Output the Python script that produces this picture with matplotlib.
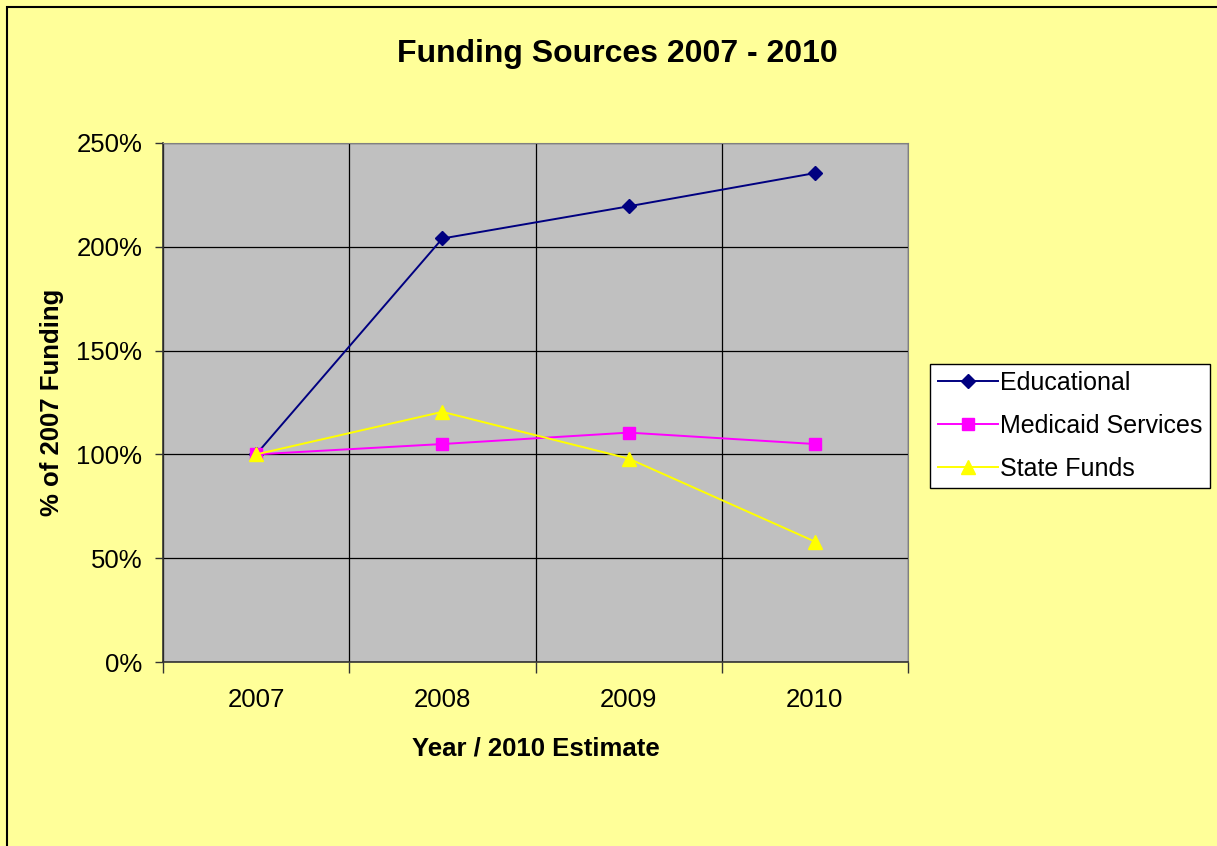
import matplotlib.pyplot as plt
from matplotlib.patches import Rectangle

plt.rcParams['font.family'] = ['Liberation Sans', 'DejaVu Sans']

years = ['2007', '2008', '2009', '2010']
educational = [100, 204, 219.5, 235.5]
medicaid = [100, 105, 110.5, 105]
state_funds = [100, 120.5, 98, 58]
yticks = [0, 50, 100, 150, 200, 250]

W, H = 1217, 846
fig = plt.figure(figsize=(W / 100, H / 100), dpi=100, facecolor='#FFFF99')
ax = fig.add_axes([163 / W, 184 / H, 745 / W, 519 / H])
ax.set_facecolor('#C0C0C0')

# outer chart border (cut off on right and bottom like the original)
fig.patches.append(Rectangle((7 / W, -0.1), 1.2, (H - 7) / H + 0.1,
                             transform=fig.transFigure, fill=False,
                             edgecolor='black', linewidth=1.5))

x = list(range(len(years)))
ax.plot(x, educational, color='#000080', marker='D', markersize=7, lw=1.4,
        label='Educational')
ax.plot(x, medicaid, color='#FF00FF', marker='s', markersize=8.5, lw=1.4,
        label='Medicaid Services')
ax.plot(x, state_funds, color='#FFFF00', marker='^', markersize=10, lw=1.4,
        label='State Funds')

ax.set_xlim(-0.5, len(years) - 0.5)
ax.set_ylim(0, 250)
ax.set_yticks(yticks)
ax.set_yticklabels([f'{v}%' for v in yticks])
ax.set_xticks([i - 0.5 for i in range(len(years) + 1)])
ax.set_xticklabels([])
ax.set_xticks(x, minor=True)
ax.set_xticklabels(years, minor=True)
ax.tick_params(axis='x', which='major', length=8, width=1, color='#333333')
ax.tick_params(axis='x', which='minor', length=0, pad=19, labelsize=18.5)
ax.tick_params(axis='y', length=6, width=1, labelsize=18.5, pad=9, color='#333333')

ax.grid(True, which='major', color='black', linewidth=0.9)
ax.set_axisbelow(True)
for side in ['top', 'right']:
    ax.spines[side].set_color('#808080')
for side in ['left', 'bottom']:
    ax.spines[side].set_color('#333333')
    ax.spines[side].set_linewidth(1.2)

ax.set_xlabel('Year / 2010 Estimate', fontsize=18.5, fontweight='bold', labelpad=17)
ax.set_ylabel('% of 2007 Funding', fontsize=18.5, fontweight='bold', labelpad=9)
fig.text(617 / W, 1 - 54 / H, 'Funding Sources 2007 - 2010', ha='center',
         va='center', fontsize=23, fontweight='bold')

leg = fig.legend(loc='center left', bbox_to_anchor=(930 / W, 1 - 426 / H),
                 fontsize=18, frameon=True, fancybox=False, edgecolor='black',
                 facecolor='white', framealpha=1, handlelength=2.4,
                 borderpad=0.3, labelspacing=0.75, handletextpad=0.1,
                 borderaxespad=0)
leg.get_frame().set_linewidth(1.0)

fig.savefig('out.png', dpi=100, facecolor=fig.get_facecolor())
